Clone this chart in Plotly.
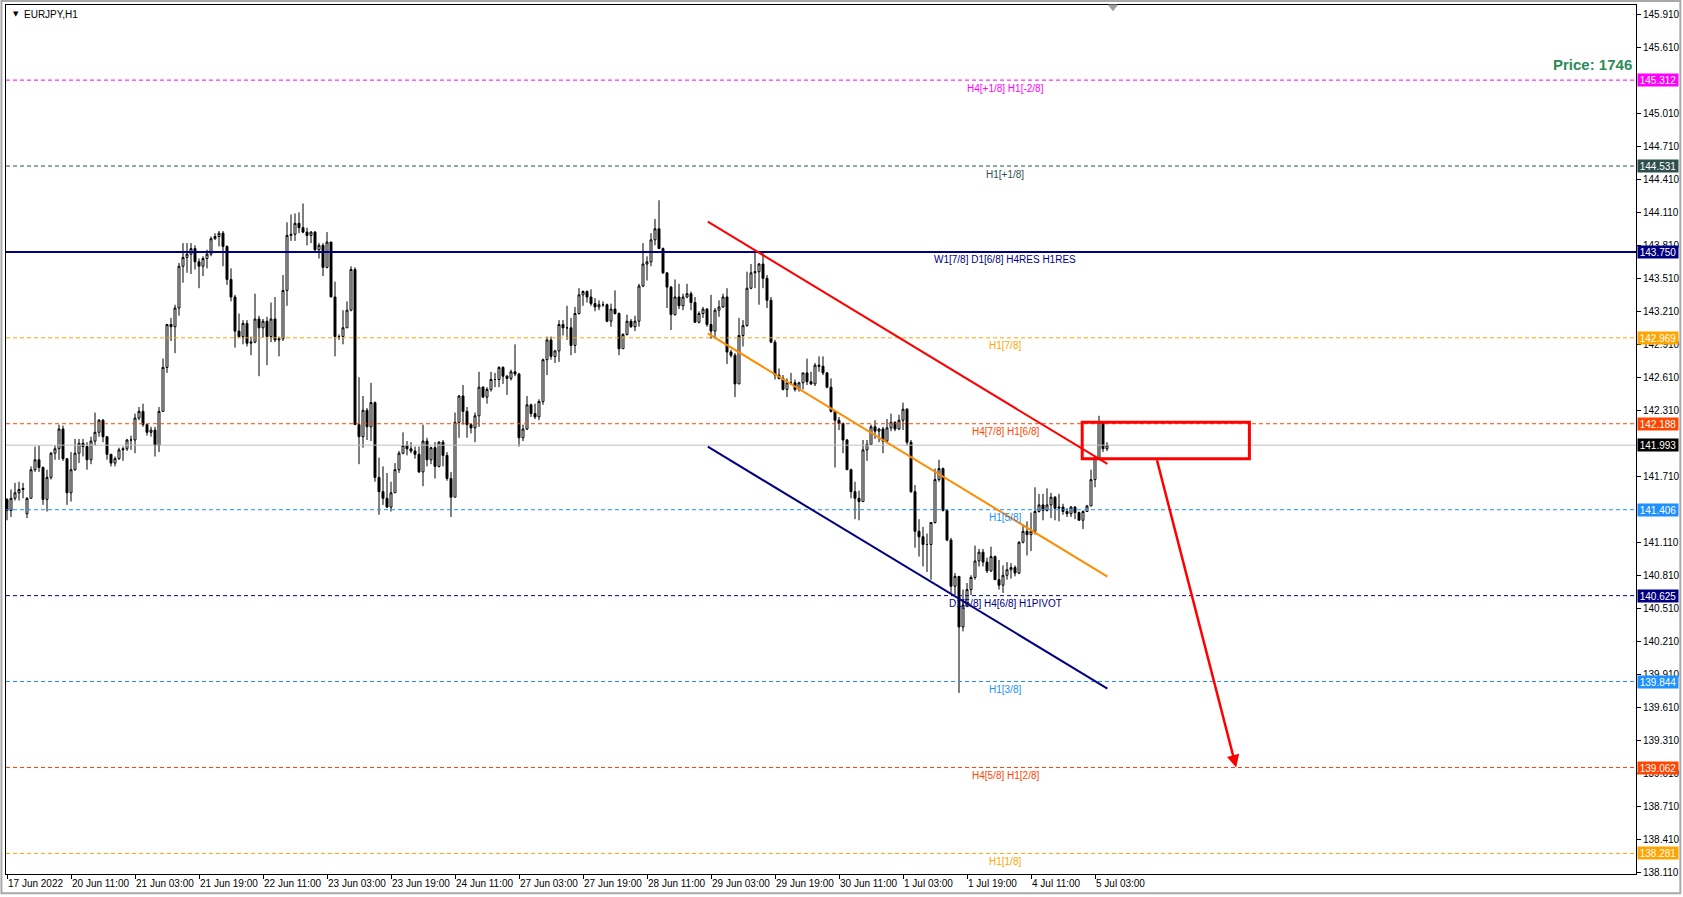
import plotly.graph_objects as go
import pandas as pd

# ---------------- data ----------------
bar_times = [t.strftime("%d %b %Y %H:%M") for t in
             pd.date_range("2022-06-17 19:00", "2022-07-05 06:00", freq="h") if t.weekday() < 5]

opens = [
    141.50, 141.40, 141.51, 141.56, 141.59, 141.37, 141.51, 141.77, 141.86, 141.79,
    141.50, 141.70, 141.92, 141.96, 142.14, 141.87, 141.56, 141.77, 141.92, 142.01,
    141.98, 141.86, 142.03, 142.11, 142.22, 142.07, 141.91, 141.83, 141.87, 141.95,
    141.96, 142.04, 142.04, 142.24, 142.30, 142.18, 142.11, 142.13, 141.99, 142.30,
    142.70, 143.09, 143.07, 143.24, 143.62, 143.70, 143.73, 143.78, 143.66, 143.62,
    143.69, 143.73, 143.87, 143.89, 143.92, 143.80, 143.50, 143.34, 143.03, 142.98,
    143.10, 142.92, 142.93, 143.14, 143.06, 143.12, 142.98, 143.14, 142.95, 142.96,
    143.40, 143.90, 143.91, 144.01, 143.97, 143.93, 143.90, 143.93, 143.77, 143.81,
    143.61, 143.84, 143.34, 142.98, 142.98, 143.06, 143.22, 143.59, 142.18, 142.07,
    142.31, 142.16, 142.38, 141.70, 141.57, 141.51, 141.43, 141.56, 141.77, 141.92,
    141.99, 141.96, 141.94, 141.91, 141.75, 142.03, 141.86, 141.97, 141.80, 142.02,
    141.90, 141.69, 141.52, 142.20, 142.44, 142.30, 142.18, 142.15, 142.26, 142.52,
    142.43, 142.50, 142.59, 142.59, 142.70, 142.62, 142.60, 142.66, 142.64, 142.06,
    142.14, 142.36, 142.28, 142.25, 142.39, 142.77, 142.95, 142.80, 142.85, 143.09,
    143.06, 143.06, 142.90, 143.19, 143.36, 143.39, 143.34, 143.28, 143.25, 143.27,
    143.27, 143.12, 143.23, 143.19, 142.87, 143.00, 143.12, 143.07, 143.12, 143.44,
    143.64, 143.66, 143.86, 143.96, 143.78, 143.56, 143.43, 143.18, 143.34, 143.26,
    143.34, 143.37, 143.29, 143.11, 143.19, 143.23, 143.09, 143.03, 143.22, 143.25,
    143.34, 142.84, 142.81, 142.55, 142.99, 143.08, 143.42, 143.56, 143.57, 143.64,
    143.51, 143.31, 142.93, 142.63, 142.60, 142.50, 142.56, 142.56, 142.50, 142.56,
    142.65, 142.57, 142.55, 142.72, 142.71, 142.65, 142.52, 142.30, 142.22, 142.19,
    142.04, 141.77, 141.57, 141.51, 141.48, 141.95, 142.00, 142.16, 142.12, 142.14,
    142.03, 142.15, 142.20, 142.14, 142.22, 142.32, 142.02, 141.57, 141.21, 141.16,
    141.09, 141.09, 141.29, 141.68, 141.78, 141.40, 141.13, 140.71, 140.80, 140.34,
    140.54, 140.68, 140.79, 140.94, 141.02, 140.93, 140.85, 140.98, 140.77, 140.72,
    140.81, 140.86, 140.88, 140.83, 141.11, 141.21, 141.18, 141.21, 141.39, 141.45,
    141.40, 141.45, 141.52, 141.42, 141.43, 141.39, 141.37, 141.43, 141.38, 141.31,
    141.39, 141.44, 141.68, 141.88, 142.20, 141.96,
]
highs = [
    141.51, 141.59, 141.65, 141.66, 141.65, 141.52, 141.80, 141.98, 141.99, 141.80,
    141.77, 141.93, 141.99, 142.18, 142.17, 141.87, 141.93, 142.05, 142.05, 142.05,
    142.02, 142.07, 142.29, 142.23, 142.23, 142.07, 141.91, 141.89, 141.97, 141.98,
    142.05, 142.08, 142.28, 142.34, 142.37, 142.18, 142.16, 142.16, 142.34, 142.78,
    143.09, 143.15, 143.27, 143.65, 143.83, 143.83, 143.83, 143.81, 143.69, 143.71,
    143.77, 143.89, 143.92, 143.94, 143.94, 143.81, 143.60, 143.36, 143.19, 143.13,
    143.13, 142.98, 143.37, 143.17, 143.14, 143.16, 143.29, 143.34, 142.98, 143.54,
    144.02, 144.09, 144.10, 144.11, 144.19, 143.97, 143.94, 143.94, 143.83, 143.83,
    143.93, 143.84, 143.48, 143.00, 143.22, 143.30, 143.62, 143.61, 142.61, 142.44,
    142.33, 142.56, 142.39, 141.88, 141.80, 141.74, 141.66, 141.83, 141.94, 142.11,
    142.03, 142.02, 141.98, 141.98, 142.18, 142.06, 141.98, 142.02, 142.03, 142.04,
    141.93, 141.75, 142.29, 142.45, 142.54, 142.34, 142.19, 142.29, 142.66, 142.53,
    142.52, 142.66, 142.65, 142.71, 142.71, 142.63, 142.68, 142.91, 142.65, 142.18,
    142.44, 142.37, 142.37, 142.41, 142.78, 142.98, 142.98, 142.86, 143.13, 143.13,
    143.26, 143.15, 143.25, 143.42, 143.40, 143.40, 143.41, 143.33, 143.31, 143.30,
    143.28, 143.28, 143.40, 143.20, 143.01, 143.18, 143.14, 143.17, 143.46, 143.83,
    143.71, 143.92, 144.05, 144.22, 143.79, 143.56, 143.44, 143.50, 143.46, 143.37,
    143.46, 143.39, 143.34, 143.21, 143.25, 143.24, 143.36, 143.24, 143.31, 143.37,
    143.42, 142.86, 142.83, 143.15, 143.13, 143.57, 143.64, 143.75, 143.65, 143.75,
    143.54, 143.34, 142.95, 142.69, 142.63, 142.60, 142.65, 142.59, 142.57, 142.65,
    142.78, 142.66, 142.74, 142.80, 142.80, 142.66, 142.60, 142.31, 142.25, 142.20,
    142.05, 141.78, 141.66, 141.58, 142.04, 142.04, 142.18, 142.22, 142.15, 142.16,
    142.23, 142.28, 142.21, 142.27, 142.38, 142.33, 142.04, 141.63, 141.32, 141.25,
    141.19, 141.29, 141.78, 141.86, 141.79, 141.41, 141.15, 140.83, 140.80, 140.68,
    140.74, 140.81, 141.08, 141.05, 141.05, 140.97, 141.07, 140.99, 140.95, 140.90,
    140.93, 140.92, 140.90, 141.12, 141.27, 141.30, 141.38, 141.61, 141.55, 141.55,
    141.60, 141.56, 141.53, 141.55, 141.46, 141.42, 141.44, 141.44, 141.39, 141.40,
    141.45, 141.77, 141.89, 142.26, 142.21, 142.02,
]
lows = [
    141.31, 141.34, 141.49, 141.49, 141.51, 141.33, 141.51, 141.75, 141.75, 141.45,
    141.39, 141.68, 141.86, 141.86, 141.85, 141.45, 141.48, 141.76, 141.83, 141.89,
    141.77, 141.82, 141.99, 142.07, 142.02, 141.86, 141.80, 141.80, 141.86, 141.85,
    141.94, 141.95, 141.92, 142.22, 142.16, 142.08, 142.07, 141.89, 141.93, 142.30,
    142.65, 142.94, 142.83, 143.17, 143.47, 143.56, 143.55, 143.59, 143.42, 143.53,
    143.60, 143.71, 143.86, 143.80, 143.62, 143.45, 143.30, 142.88, 142.97, 142.91,
    142.89, 142.81, 142.92, 142.62, 142.97, 142.72, 142.93, 142.93, 142.80, 142.94,
    143.26, 143.85, 143.85, 143.92, 143.92, 143.81, 143.83, 143.75, 143.69, 143.53,
    143.60, 143.34, 142.80, 142.95, 142.91, 143.06, 143.21, 142.18, 141.82, 141.97,
    142.04, 142.03, 141.66, 141.36, 141.45, 141.42, 141.39, 141.56, 141.74, 141.91,
    141.90, 141.92, 141.87, 141.74, 141.62, 141.80, 141.82, 141.69, 141.79, 141.80,
    141.67, 141.34, 141.52, 142.06, 142.18, 142.06, 142.10, 142.02, 142.16, 142.42,
    142.37, 142.48, 142.52, 142.52, 142.55, 142.45, 142.58, 142.62, 141.98, 142.03,
    142.13, 142.25, 142.23, 142.22, 142.36, 142.63, 142.77, 142.74, 142.75, 142.99,
    142.95, 142.81, 142.83, 143.18, 143.26, 143.29, 143.26, 143.21, 143.22, 143.25,
    143.11, 143.07, 143.18, 142.81, 142.87, 142.99, 143.06, 143.03, 143.07, 143.43,
    143.49, 143.62, 143.81, 143.78, 143.55, 143.24, 143.04, 143.17, 143.23, 143.22,
    143.33, 143.22, 143.11, 143.10, 143.15, 143.07, 142.96, 142.96, 143.16, 143.24,
    142.73, 142.79, 142.43, 142.55, 142.89, 143.07, 143.41, 143.42, 143.27, 143.42,
    143.24, 142.92, 142.59, 142.59, 142.49, 142.43, 142.54, 142.48, 142.48, 142.50,
    142.54, 142.54, 142.53, 142.66, 142.63, 142.51, 142.29, 141.79, 142.13, 141.92,
    141.77, 141.51, 141.32, 141.31, 141.48, 141.85, 142.00, 142.05, 142.02, 141.92,
    142.01, 142.12, 142.12, 142.13, 142.13, 141.99, 141.56, 141.06, 140.98, 140.89,
    140.84, 140.77, 141.28, 141.66, 141.39, 141.12, 140.65, 140.63, 139.74, 140.30,
    140.52, 140.63, 140.77, 140.89, 140.89, 140.83, 140.84, 140.77, 140.68, 140.65,
    140.77, 140.78, 140.80, 140.82, 141.10, 140.99, 141.03, 141.18, 141.38, 141.31,
    141.39, 141.33, 141.31, 141.30, 141.36, 141.34, 141.34, 141.32, 141.31, 141.23,
    141.39, 141.44, 141.61, 141.88, 141.93, 141.94,
]
closes = [
    141.40, 141.51, 141.56, 141.59, 141.60, 141.51, 141.77, 141.86, 141.79, 141.50,
    141.70, 141.92, 141.96, 142.14, 141.87, 141.56, 141.77, 141.92, 142.01, 141.98,
    141.86, 142.03, 142.11, 142.22, 142.07, 141.91, 141.83, 141.87, 141.95, 141.96,
    142.04, 142.04, 142.24, 142.30, 142.18, 142.11, 142.13, 141.99, 142.30, 142.70,
    143.09, 143.07, 143.24, 143.62, 143.70, 143.73, 143.78, 143.66, 143.62, 143.69,
    143.73, 143.87, 143.89, 143.92, 143.80, 143.50, 143.34, 143.03, 142.98, 143.10,
    142.92, 142.93, 143.14, 143.06, 143.12, 142.98, 143.14, 142.95, 142.96, 143.40,
    143.90, 143.91, 144.01, 143.97, 143.93, 143.90, 143.93, 143.77, 143.81, 143.61,
    143.84, 143.34, 142.98, 142.98, 143.06, 143.22, 143.59, 142.18, 142.07, 142.31,
    142.16, 142.38, 141.70, 141.57, 141.51, 141.43, 141.56, 141.77, 141.92, 141.99,
    141.96, 141.94, 141.91, 141.75, 142.03, 141.86, 141.97, 141.80, 142.02, 141.90,
    141.69, 141.52, 142.20, 142.44, 142.30, 142.18, 142.15, 142.26, 142.52, 142.43,
    142.50, 142.59, 142.59, 142.70, 142.62, 142.60, 142.66, 142.64, 142.06, 142.14,
    142.36, 142.28, 142.25, 142.39, 142.77, 142.95, 142.80, 142.85, 143.09, 143.06,
    143.06, 142.90, 143.19, 143.36, 143.39, 143.34, 143.28, 143.25, 143.27, 143.27,
    143.12, 143.23, 143.19, 142.87, 143.00, 143.12, 143.07, 143.12, 143.44, 143.64,
    143.66, 143.86, 143.96, 143.78, 143.56, 143.43, 143.18, 143.34, 143.26, 143.34,
    143.37, 143.29, 143.11, 143.19, 143.23, 143.09, 143.03, 143.22, 143.25, 143.34,
    142.84, 142.81, 142.55, 142.99, 143.08, 143.42, 143.56, 143.57, 143.64, 143.51,
    143.31, 142.93, 142.63, 142.60, 142.50, 142.56, 142.56, 142.50, 142.56, 142.65,
    142.57, 142.55, 142.72, 142.71, 142.65, 142.52, 142.30, 142.22, 142.19, 142.04,
    141.77, 141.57, 141.51, 141.48, 141.95, 142.00, 142.16, 142.12, 142.14, 142.03,
    142.15, 142.20, 142.14, 142.22, 142.32, 142.02, 141.57, 141.21, 141.16, 141.09,
    141.09, 141.29, 141.68, 141.78, 141.40, 141.13, 140.71, 140.80, 140.34, 140.54,
    140.68, 140.79, 140.94, 141.02, 140.93, 140.85, 140.98, 140.77, 140.72, 140.81,
    140.86, 140.88, 140.83, 141.11, 141.21, 141.18, 141.21, 141.39, 141.45, 141.40,
    141.45, 141.52, 141.42, 141.43, 141.39, 141.37, 141.43, 141.38, 141.31, 141.39,
    141.44, 141.68, 141.88, 142.20, 141.96, 141.993,
]
assert len(opens) == len(highs) == len(lows) == len(closes) == len(bar_times), (
    len(opens), len(highs), len(lows), len(closes), len(bar_times))

x_tick_positions = [0, 16, 32, 48, 64, 80, 96, 112, 128, 144, 160, 176, 192, 208, 224, 240, 256, 272]
x_tick_labels = ["17 Jun 2022", "20 Jun 11:00", "21 Jun 03:00", "21 Jun 19:00", "22 Jun 11:00",
                 "23 Jun 03:00", "23 Jun 19:00", "24 Jun 11:00", "27 Jun 03:00", "27 Jun 19:00",
                 "28 Jun 11:00", "29 Jun 03:00", "29 Jun 19:00", "30 Jun 11:00", "1 Jul 03:00",
                 "1 Jul 19:00", "4 Jul 11:00", "5 Jul 03:00"]
# price-scale labels that stay visible (the rest sit under the level markers)
y_tick_values = [138.110, 138.410, 138.710, 139.010, 139.310, 139.610, 139.910, 140.210, 140.510,
                 140.810, 141.110, 141.710, 142.310, 142.610, 142.910, 143.210,
                 143.510, 143.810, 144.110, 144.410, 144.710, 145.010, 145.610, 145.910]

level_prices = [145.312, 144.531, 143.750, 142.969, 142.188, 141.406, 140.625, 139.844, 139.062, 138.281]
level_names = ["H4[+1/8] H1[-2/8]", "H1[+1/8]", "W1[7/8] D1[6/8] H4RES H1RES", "H1[7/8]",
               "H4[7/8] H1[6/8]", "H1[5/8]", "D1[5/8] H4[6/8] H1PIVOT", "H1[3/8]",
               "H4[5/8] H1[2/8]", "H1[1/8]"]
level_colors = ["#FF00FF", "#2F4F4F", "#000080", "#FFA500", "#FF4500", "#1E90FF", "#000080",
                "#1E90FF", "#FF4500", "#FFA500"]
bid_price = 141.993
price_text = "Price: 1746"
symbol_text = "EURJPY,H1"

# trend channel (bar index, price) endpoints
red_line = [(175.2, 144.025), (275.1, 141.822)]
orange_line = [(175.2, 143.010), (275.1, 140.797)]
navy_line = [(175.2, 141.979), (275.1, 139.780)]
zone_box = [(268.8, 141.870), (310.6, 142.201)]
target_arrow = [(287.4, 141.870), (307.3, 139.062)]
shift_marker_bar = 276.5

# ---------------- figure ----------------
FONT = "Liberation Sans, Arial, sans-serif"
x_pos = list(range(len(bar_times)))

fig = go.Figure()
fig.add_trace(go.Candlestick(
    x=x_pos, open=opens, high=highs, low=lows, close=closes,
    text=bar_times, hoverinfo="text+y",
    increasing=dict(line=dict(color="black", width=1), fillcolor="white"),
    decreasing=dict(line=dict(color="black", width=1), fillcolor="black"),
    whiskerwidth=0, showlegend=False,
))

shapes = []
annotations = []

# outer window frame
shapes.append(dict(type="rect", xref="paper", yref="paper", x0=-0.0028, x1=1.0272,
                   y0=-0.0222, y1=1.0045, line=dict(color="#A8A8A8", width=2), layer="below"))

for p, name, col in zip(level_prices, level_names, level_colors):
    solid = name.startswith("W1")
    shapes.append(dict(type="line", xref="paper", x0=0, x1=1, yref="y", y0=p, y1=p,
                       line=dict(color=col, width=2 if solid else 1,
                                 dash="solid" if solid else "4px,3px")))
    annotations.append(dict(x=249.6, y=p, xref="x", yref="y", text=name, showarrow=False,
                            yshift=-8, font=dict(family=FONT, size=10, color=col)))
    annotations.append(dict(x=1.0009, y=p, xref="paper", yref="y", text=f"{p:.3f}",
                            showarrow=False, xanchor="left", yanchor="middle",
                            bgcolor=col, width=38, height=10, borderpad=1, align="center",
                            font=dict(family=FONT, size=10, color="white")))

shapes.append(dict(type="line", xref="paper", x0=0, x1=1, yref="y", y0=bid_price, y1=bid_price,
                   line=dict(color="#C0C0C0", width=1)))
annotations.append(dict(x=1.0009, y=bid_price, xref="paper", yref="y", text=f"{bid_price:.3f}",
                        showarrow=False, xanchor="left", yanchor="middle",
                        bgcolor="black", width=38, height=10, borderpad=1, align="center",
                        font=dict(family=FONT, size=10, color="white")))

for seg, col in [(red_line, "#FF0000"), (orange_line, "#FF8C00"), (navy_line, "#000080")]:
    shapes.append(dict(type="line", xref="x", yref="y", x0=seg[0][0], y0=seg[0][1],
                       x1=seg[1][0], y1=seg[1][1], line=dict(color=col, width=2)))

shapes.append(dict(type="rect", xref="x", yref="y", x0=zone_box[0][0], y0=zone_box[0][1],
                   x1=zone_box[1][0], y1=zone_box[1][1], line=dict(color="#FF0000", width=3)))

# chart-shift marker at the top border
m = shift_marker_bar
shapes.append(dict(type="path", xref="x", yref="paper",
                   path=f"M {m - 1.1},1 L {m + 1.1},1 L {m},0.9935 Z",
                   fillcolor="#A0A0A0", line=dict(color="#A0A0A0", width=1)))

annotations.append(dict(x=target_arrow[1][0], y=target_arrow[1][1], ax=target_arrow[0][0],
                        ay=target_arrow[0][1], xref="x", yref="y", axref="x", ayref="y",
                        text="", showarrow=True, arrowhead=2, arrowsize=1, arrowwidth=2.5,
                        arrowcolor="#FF0000", standoff=0, startstandoff=0))

annotations.append(dict(x=0.9988, y=0.9315, xref="paper", yref="paper", text=f"<b>{price_text}</b>",
                        showarrow=False, xanchor="right", yanchor="middle",
                        font=dict(family=FONT, size=15, color="#2E8B57")))
annotations.append(dict(x=0.0028, y=0.9896, xref="paper", yref="paper", text="▼",
                        showarrow=False, xanchor="left", yanchor="middle",
                        font=dict(family="DejaVu Sans", size=7, color="black")))
annotations.append(dict(x=0.0096, y=0.9896, xref="paper", yref="paper", text=symbol_text,
                        showarrow=False, xanchor="left", yanchor="middle",
                        font=dict(family=FONT, size=10, color="black")))

fig.update_layout(
    width=1683, height=897,
    margin=dict(l=6, r=47, t=5, b=23, autoexpand=False),
    paper_bgcolor="white", plot_bgcolor="white",
    shapes=shapes, annotations=annotations,
    hovermode="closest",
    xaxis=dict(range=[-0.25, 407.25], showgrid=False, zeroline=False,
               rangeslider=dict(visible=False), automargin=False,
               tickmode="array", tickvals=x_tick_positions, ticktext=x_tick_labels,
               ticks="outside", ticklen=4, tickcolor="black", tickangle=0,
               ticklabelposition="outside right",
               tickfont=dict(family=FONT, size=10, color="black"),
               showline=True, linecolor="black", linewidth=1, mirror=True),
    yaxis=dict(range=[138.094, 145.995], side="right", showgrid=False, zeroline=False,
               automargin=False,
               tickmode="array", tickvals=y_tick_values, ticktext=[f"{v:.3f}" for v in y_tick_values],
               ticks="outside", ticklen=4, tickcolor="black",
               tickfont=dict(family=FONT, size=10, color="black"),
               showline=True, linecolor="black", linewidth=1, mirror=True),
)

fig.write_html("out.html", config={"displayModeBar": False},
               post_script="document.body.style.margin='0';document.body.style.overflow='hidden';")
